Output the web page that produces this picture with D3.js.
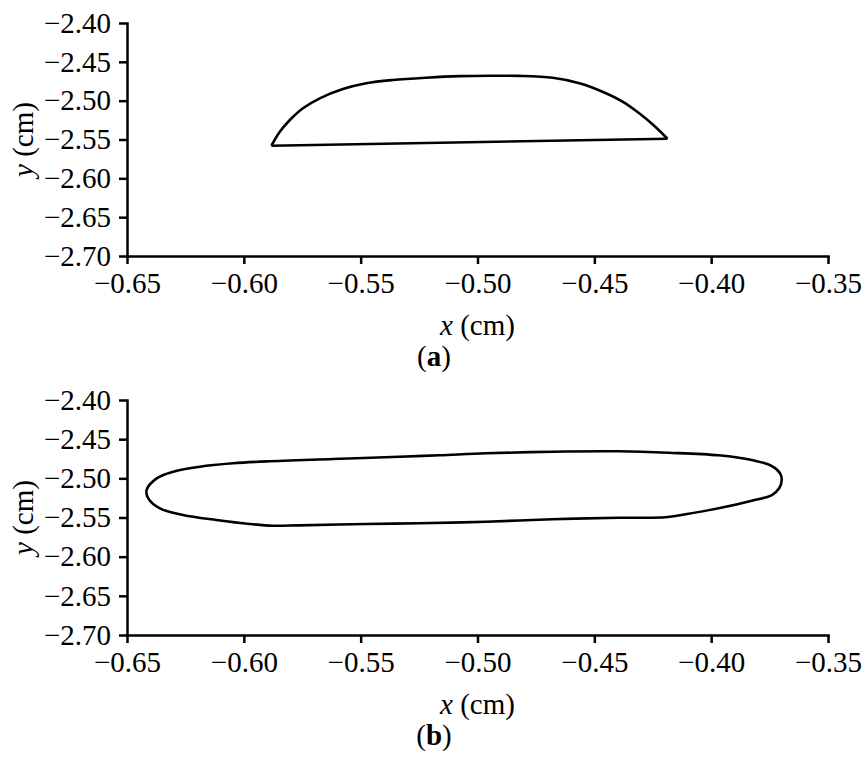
<!DOCTYPE html>
<html>
<head>
<meta charset="utf-8">
<script src="https://cdn.jsdelivr.net/npm/d3@7"></script>
<style>
  body { margin: 0; background: #fff; }
  svg { display: block; }
  .axis path, .axis line { stroke: #000; stroke-width: 2.5; }
  .axis text { font-family: 'Liberation Serif', 'Times New Roman', serif; font-size: 29px; fill: #000; }
  .label { font-family: 'Liberation Serif', 'Times New Roman', serif; font-size: 29px; fill: #000; }
  .outline { fill: none; stroke: #000; stroke-width: 2.6; stroke-linejoin: round; }
</style>
</head>
<body>
<svg id="fig" width="868" height="768"></svg>
<script>
// Axis ticks (both panels share them)
const xTicks = [-0.65, -0.60, -0.55, -0.50, -0.45, -0.40, -0.35];
const yTicks = [-2.40, -2.45, -2.50, -2.55, -2.60, -2.65, -2.70];

// Panel (a): upper arc, left tip to right tip
const arcA = [
  [-0.5882, -2.5580], [-0.5846, -2.5400], [-0.5803, -2.5249], [-0.5747, -2.5098],
  [-0.5675, -2.4970], [-0.5576, -2.4850], [-0.5476, -2.4776], [-0.5362, -2.4734],
  [-0.5219, -2.4704], [-0.5077, -2.4684], [-0.4950, -2.4679], [-0.4821, -2.4681],
  [-0.4678, -2.4706], [-0.4564, -2.4776], [-0.4465, -2.4885], [-0.4379, -2.5013],
  [-0.4308, -2.5163], [-0.4245, -2.5320], [-0.4187, -2.5490]
];
// Panel (a): straight base, right tip back to left tip
const baseA = [[-0.4187, -2.5490], [-0.5882, -2.5580]];

// Panel (b): closed loop
const loopB = [
  [-0.6416, -2.5149], [-0.6373, -2.5000], [-0.6302, -2.4915], [-0.6188, -2.4851],
  [-0.6046, -2.4808], [-0.5903, -2.4783], [-0.5619, -2.4753], [-0.5334, -2.4724],
  [-0.5163, -2.4706], [-0.4964, -2.4680], [-0.4680, -2.4660], [-0.4395, -2.4655],
  [-0.4181, -2.4673], [-0.3968, -2.4706], [-0.3826, -2.4766], [-0.3740, -2.4843],
  [-0.3705, -2.4936], [-0.3698, -2.5021], [-0.3709, -2.5127], [-0.3740, -2.5213],
  [-0.3826, -2.5286], [-0.3968, -2.5383], [-0.4110, -2.5459], [-0.4196, -2.5497],
  [-0.4395, -2.5503], [-0.4680, -2.5523], [-0.4964, -2.5554], [-0.5249, -2.5574],
  [-0.5477, -2.5583], [-0.5762, -2.5600], [-0.5875, -2.5605], [-0.5975, -2.5583],
  [-0.6117, -2.5532], [-0.6260, -2.5468], [-0.6359, -2.5383], [-0.6409, -2.5255]
];

const svg = d3.select('#fig');
const left = 127, right = 828;

const x = d3.scaleLinear().domain([-0.65, -0.35]).range([left, right]);

// Draw one panel with its axes and labels, top = pixel row of y = -2.40
function drawPanel(top, bottom, tag, shapes) {
  const y = d3.scaleLinear().domain([-2.70, -2.40]).range([bottom, top]);
  const fmt = d3.format('.2f');
  const g = svg.append('g');

  const xAxis = g.append('g')
    .attr('class', 'axis')
    .attr('transform', `translate(0,${bottom})`)
    .call(d3.axisBottom(x).tickValues(xTicks).tickFormat(fmt).tickSize(8).tickSizeOuter(0).tickPadding(8));
  xAxis.selectAll('text').attr('dy', '0.71em');

  g.append('g')
    .attr('class', 'axis')
    .attr('transform', `translate(${left},0)`)
    .call(d3.axisLeft(y).tickValues(yTicks).tickFormat(fmt).tickSize(8).tickSizeOuter(0).tickPadding(8));

  g.selectAll('.axis .domain').attr('stroke-linecap', 'square');

  shapes.forEach((s) => {
    const line = d3.line()
      .x((d) => x(d[0]))
      .y((d) => y(d[1]))
      .curve(s.curve);
    g.append('path')
      .attr('class', 'outline')
      .attr('d', line(s.data));
  });

  // x label
  const xl = g.append('text')
    .attr('class', 'label')
    .attr('text-anchor', 'middle')
    .attr('x', (left + right) / 2)
    .attr('y', bottom + 79);
  xl.append('tspan').attr('font-style', 'italic').text('x');
  xl.append('tspan').text(' (cm)');

  // y label, rotated
  const yl = g.append('text')
    .attr('class', 'label')
    .attr('text-anchor', 'middle')
    .attr('transform', `translate(33,${(top + bottom) / 2}) rotate(-90)`);
  yl.append('tspan').attr('font-style', 'italic').text('y');
  yl.append('tspan').text(' (cm)');

  // panel tag
  const t = g.append('text')
    .attr('class', 'label')
    .attr('text-anchor', 'middle')
    .attr('x', 434)
    .attr('y', bottom + 110);
  t.append('tspan').text('(');
  t.append('tspan').attr('font-weight', 'bold').text(tag);
  t.append('tspan').text(')');
}

drawPanel(23, 256, 'a', [
  { data: arcA, curve: d3.curveCatmullRom.alpha(0.5) },
  { data: baseA, curve: d3.curveLinear }
]);
drawPanel(400, 635, 'b', [
  { data: loopB, curve: d3.curveCatmullRomClosed.alpha(0.5) }
]);
</script>
</body>
</html>
